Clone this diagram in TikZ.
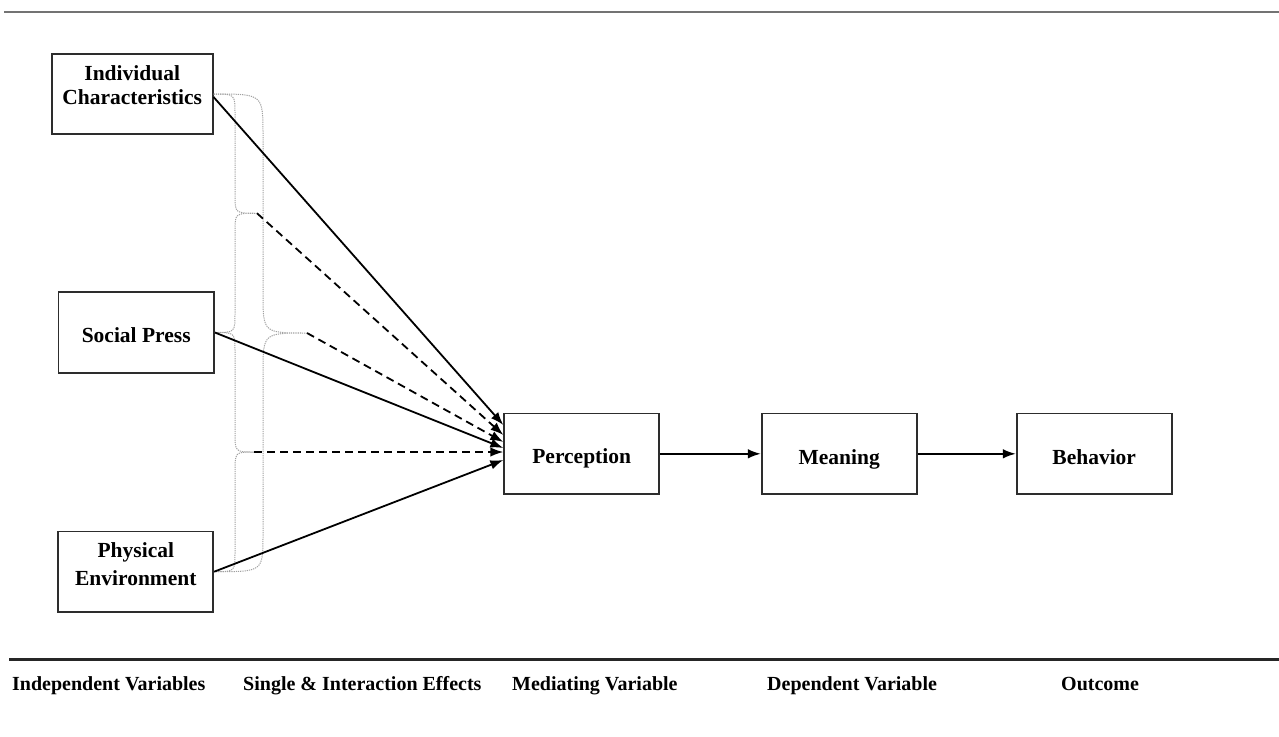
\documentclass[tikz,border=0pt]{standalone}
\usepackage{fontspec}
\setmainfont{Liberation Serif}
\usetikzlibrary{arrows.meta,calc}
\definecolor{boxline}{RGB}{45,45,45}
\definecolor{toprule}{RGB}{115,115,115}
\definecolor{bracecol}{RGB}{160,160,160}
\begin{document}
\begin{tikzpicture}[x=1pt,y=-1pt,
  box/.style={draw=boxline,line width=1.7pt,minimum width=155pt,minimum height=80.5pt,inner sep=0pt},
  lbl/.style={font=\bfseries\fontsize{21.5}{24}\selectfont,inner sep=0pt,anchor=base},
  foot/.style={font=\bfseries\fontsize{20}{24}\selectfont,inner sep=0pt,anchor=base west},
  conn/.style={line width=1.8pt,draw=black,-{Latex[length=13pt,width=9.5pt]}},
  dashconn/.style={conn,dash pattern=on 8pt off 5pt},
  bracestyle/.style={draw=bracecol,line width=1pt,dash pattern=on 1.2pt off 1pt}
]
\useasboundingbox (0,0) rectangle (1279,736);

% rules
\draw[toprule,line width=1.5pt] (4,12) -- (1279,12);
\draw[black!85,line width=3pt] (9,659) -- (1279,659);

% boxes
\node[box,minimum width=161pt] (IC) at (132.2,94) {};
\node[box,minimum width=155.7pt] (SP) at (136.2,332.5) {};
\node[box] (PE) at (135.8,571.7) {};
\node[box] (PER) at (581.7,453.8) {};
\node[box] (MEA) at (839.2,453.8) {};
\node[box] (BEH) at (1094.2,453.8) {};

% box texts
\node[lbl] at (132.2,80.7) {\begin{tabular}[t]{@{}c@{}}Individual\\Characteristics\end{tabular}};
\node[lbl] at (136.2,342.3) {Social Press};
\node[lbl] at (135.8,557.3) {\begin{tabular}[t]{@{}c@{}}Physical\\[3.7pt]Environment\end{tabular}};
\node[lbl] at (581.7,463.3) {Perception};
\node[lbl] at (839.2,464.3) {Meaning};
\node[lbl] at (1094.2,464.3) {Behavior};

% brace tips
\coordinate (t1) at (257,213.25);
\coordinate (t2) at (307,333);
\coordinate (t3) at (254,452);

% braces
\draw[bracestyle] (IC.east) .. controls (235,94) .. (235,114) -- (235,195)
  .. controls (235,213.25) .. (t1) .. controls (235,213.25) .. (235,231) -- (235,313)
  .. controls (235,332.5) .. (SP.east);
\draw[bracestyle] (IC.east) .. controls (263,94) .. (263,135) -- (263,293)
  .. controls (263,333) .. (t2) .. controls (263,333) .. (263,373) -- (263,535)
  .. controls (263,571.7) .. (PE.east);
\draw[bracestyle] (SP.east) .. controls (235,332.5) .. (235,352) -- (235,432)
  .. controls (235,452) .. (t3) .. controls (235,452) .. (235,472) -- (235,552)
  .. controls (235,571.7) .. (PE.east);

% connectors into Perception
\draw[conn] ([yshift=-3pt]IC.east) -- ([yshift=28.8pt]PER.west);
\draw[dashconn] (t1) -- ([yshift=18.8pt]PER.west);
\draw[dashconn] (t2) -- ([yshift=11.8pt]PER.west);
\draw[conn] (SP.east) -- ([yshift=5.8pt]PER.west);
\draw[dashconn] (t3) -- ([yshift=1.8pt]PER.west);
\draw[conn] (PE.east) -- ([yshift=-6.2pt]PER.west);

% chain
\draw[conn] (PER.east) -- (MEA.west);
\draw[conn] (MEA.east) -- (BEH.west);

% footer labels
\node[foot] at (12,690) {Independent Variables};
\node[foot] at (243,690) {Single \& Interaction Effects};
\node[foot] at (512,690) {Mediating Variable};
\node[foot] at (767,690) {Dependent Variable};
\node[foot] at (1061,690) {Outcome};
\end{tikzpicture}
\end{document}
